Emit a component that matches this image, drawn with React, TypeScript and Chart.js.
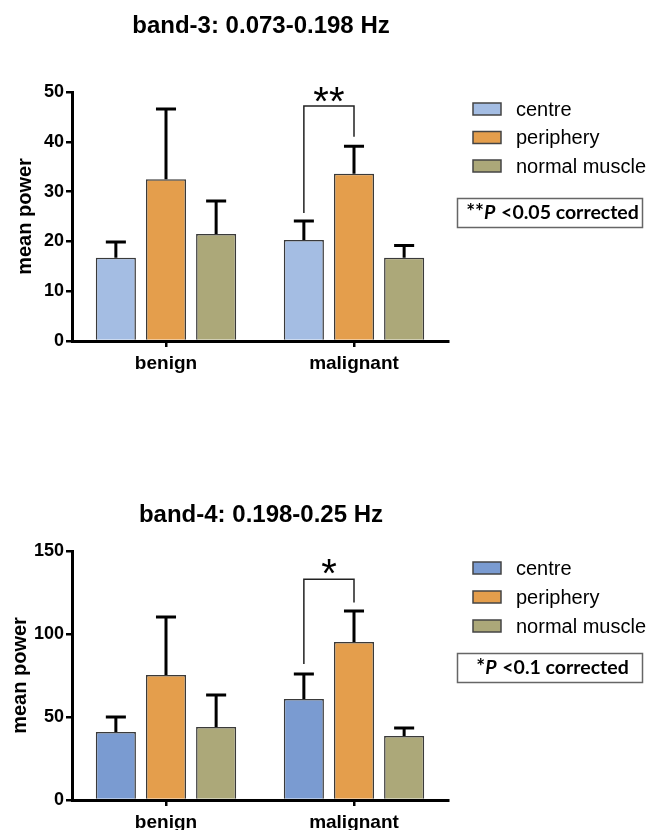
import React, { useEffect, useRef } from 'react';
import { Chart, registerables } from 'chart.js';

Chart.register(...registerables);

// ---------- data ----------
const categories = ['benign', 'malignant'];
const seriesNames = ['centre', 'periphery', 'normal muscle'];
const yAxisLabel = 'mean power';

const band3Title = 'band-3: 0.073-0.198 Hz';
const band3Centre = [16.7, 20.3];
const band3Periphery = [32.5, 33.6];
const band3Normal = [21.5, 16.7];
const band3CentreErr = [3.2, 3.8];
const band3PeripheryErr = [14.1, 5.5];
const band3NormalErr = [6.6, 2.5];
const band3YMin = 0;
const band3YMax = 50;
const band3YStep = 10;
const band3Bracket = [25.7, 47.2, 41.0]; // left leg bottom, bracket top, right leg bottom
const band3Stars = '**';
const band3Note = ['**', 'P', ' <0.05 corrected'];

const band4Title = 'band-4: 0.198-0.25 Hz';
const band4Centre = [41.0, 60.8];
const band4Periphery = [75.3, 95.2];
const band4Normal = [44.0, 38.5];
const band4CentreErr = [9.0, 15.1];
const band4PeripheryErr = [34.9, 18.6];
const band4NormalErr = [19.3, 4.9];
const band4YMin = 0;
const band4YMax = 150;
const band4YStep = 50;
const band4Bracket = [82, 133, 119];
const band4Stars = '*';
const band4Note = ['*', 'P', ' <0.1 corrected'];

// ---------- styles ----------
const FONT = '"Liberation Sans", Arial, Helvetica, sans-serif';
const NOTE_FONT = 'Lato, "Open Sans", sans-serif';
const W = 647;
const H = 415;

type Spec = {
  title: string;
  values: number[][];
  errors: number[][];
  colors: string[];
  yMin: number; yMax: number; yStep: number;
  bracket: number[];
  stars: string;
  note: string[];
  layout: {
    plotTop: number; padBottom: number; xHeight: number;
    titleBaseline: number;
    yLabelX: number;
    legendTop: number; legendGap: number;
    noteTop: number;
    starGap: number;
  };
};

const band3Spec: Spec = {
  title: band3Title,
  values: [band3Centre, band3Periphery, band3Normal],
  errors: [band3CentreErr, band3PeripheryErr, band3NormalErr],
  colors: ['#a4bde3', '#e49e4c', '#aca879'],
  yMin: band3YMin, yMax: band3YMax, yStep: band3YStep,
  bracket: band3Bracket,
  stars: band3Stars,
  note: band3Note,
  layout: { plotTop: 92, padBottom: 34, xHeight: 40, titleBaseline: 33, yLabelX: 25, legendTop: 109, legendGap: 28.5, noteTop: 198, starGap: 11 },
};

const band4Spec: Spec = {
  title: band4Title,
  values: [band4Centre, band4Periphery, band4Normal],
  errors: [band4CentreErr, band4PeripheryErr, band4NormalErr],
  colors: ['#7a9bd1', '#e49e4c', '#aca879'],
  yMin: band4YMin, yMax: band4YMax, yStep: band4YStep,
  bracket: band4Bracket,
  stars: band4Stars,
  note: band4Note,
  layout: { plotTop: 136, padBottom: 0, xHeight: 30, titleBaseline: 107, yLabelX: 20, legendTop: 153, legendGap: 29, noteTop: 238, starGap: 13 },
};

function makePlugin(spec: Spec) {
  return {
    id: 'decor',
    afterDatasetsDraw(chart: any) {
      const ctx = chart.ctx as CanvasRenderingContext2D;
      const y = chart.scales.y;
      chart.data.datasets.forEach((ds: any, di: number) => {
        const meta = chart.getDatasetMeta(di);
        meta.data.forEach((bar: any, i: number) => {
          const v = ds.data[i];
          const e = spec.errors[di][i];
          const pBase = y.getPixelForValue(v);
          const pTop = y.getPixelForValue(v + e);
          const half = bar.width / 4;
          ctx.save();
          ctx.strokeStyle = '#000';
          ctx.lineWidth = 3;
          ctx.beginPath();
          ctx.moveTo(bar.x, pBase);
          ctx.lineTo(bar.x, pTop);
          ctx.moveTo(bar.x - half, pTop);
          ctx.lineTo(bar.x + half, pTop);
          ctx.stroke();
          ctx.restore();
        });
      });
    },
    afterDraw(chart: any) {
      const ctx = chart.ctx as CanvasRenderingContext2D;
      const area = chart.chartArea;
      const y = chart.scales.y;
      const L = spec.layout;
      ctx.save();
      // title
      ctx.fillStyle = '#000';
      ctx.font = `bold 24px ${FONT}`;
      ctx.textAlign = 'center';
      ctx.textBaseline = 'alphabetic';
      ctx.fillText(spec.title, (area.left + area.right) / 2 + 1, L.titleBaseline);

      // y-axis label
      ctx.save();
      ctx.translate(L.yLabelX, (area.top + area.bottom) / 2);
      ctx.rotate(-Math.PI / 2);
      ctx.font = `bold 20px ${FONT}`;
      ctx.textBaseline = 'middle';
      ctx.textAlign = 'center';
      ctx.fillText(yAxisLabel, 0, 0);
      ctx.restore();

      // significance bracket (between centre and periphery of malignant)
      const b0 = chart.getDatasetMeta(0).data[1];
      const b1 = chart.getDatasetMeta(1).data[1];
      const pL = y.getPixelForValue(spec.bracket[0]);
      const pT = y.getPixelForValue(spec.bracket[1]);
      const pR = y.getPixelForValue(spec.bracket[2]);
      ctx.strokeStyle = '#222';
      ctx.lineWidth = 1.5;
      ctx.beginPath();
      ctx.moveTo(b0.x, pL);
      ctx.lineTo(b0.x, pT);
      ctx.lineTo(b1.x, pT);
      ctx.lineTo(b1.x, pR);
      ctx.stroke();
      ctx.font = `40px ${FONT}`;
      ctx.textAlign = 'center';
      ctx.textBaseline = 'alphabetic';
      const m = ctx.measureText(spec.stars);
      const starCenter = pT - L.starGap;
      const baseY = starCenter + (m.actualBoundingBoxAscent - m.actualBoundingBoxDescent) / 2;
      ctx.fillStyle = '#000';
      ctx.fillText(spec.stars, (b0.x + b1.x) / 2, baseY);

      // legend
      seriesNames.forEach((name, k) => {
        const cy = L.legendTop + k * L.legendGap;
        ctx.fillStyle = spec.colors[k];
        ctx.fillRect(473, cy - 6, 28, 12);
        ctx.strokeStyle = '#444';
        ctx.lineWidth = 1.5;
        ctx.strokeRect(473, cy - 6, 28, 12);
        ctx.fillStyle = '#000';
        ctx.font = `20px ${FONT}`;
        ctx.textAlign = 'left';
        ctx.textBaseline = 'middle';
        ctx.fillText(name, 516, cy + 1);
      });

      // note box
      ctx.strokeStyle = '#666';
      ctx.lineWidth = 1.5;
      ctx.strokeRect(457.5, L.noteTop + 0.5, 185, 29);
      const fonts = [`bold 21px ${NOTE_FONT}`, `italic bold 19.5px ${NOTE_FONT}`, `bold 19.5px ${NOTE_FONT}`];
      let total = 0;
      const widths = spec.note.map((t, i) => {
        ctx.font = fonts[i];
        const w = ctx.measureText(t).width;
        total += w;
        return w;
      });
      let x = 551 - total / 2 + 1;
      ctx.textAlign = 'left';
      ctx.textBaseline = 'alphabetic';
      ctx.fillStyle = '#000';
      spec.note.forEach((t, i) => {
        ctx.font = fonts[i];
        ctx.fillText(t, x, L.noteTop + 21);
        x += widths[i] + (i === 1 ? 1 : 0);
      });
      ctx.restore();
    },
  };
}

function makeConfig(spec: Spec): any {
  const L = spec.layout;
  return {
    type: 'bar',
    data: {
      labels: categories,
      datasets: seriesNames.map((name, k) => ({
        label: name,
        data: spec.values[k],
        backgroundColor: spec.colors[k],
        borderColor: '#3a3a3a',
        borderWidth: 1.5,
        categoryPercentage: 0.8,
        barPercentage: 0.8,
      })),
    },
    options: {
      animation: false,
      responsive: false,
      events: [],
      layout: { padding: { left: 0, top: L.plotTop, right: W - 448, bottom: L.padBottom } },
      plugins: {
        legend: { display: false },
        title: { display: false },
        tooltip: { enabled: false },
      },
      scales: {
        x: {
          type: 'category',
          offset: true,
          z: 1,
          grid: { display: true, drawOnChartArea: false, drawTicks: true, tickLength: 6, offset: false, color: '#000', lineWidth: 2.5 },
          border: { display: true, color: '#000', width: 3 },
          ticks: { color: '#000', font: { family: FONT, size: 19, weight: 'bold' }, padding: 5, maxRotation: 0 },
          afterFit: (s: any) => { s.height = L.xHeight; },
        },
        y: {
          min: spec.yMin,
          max: spec.yMax,
          z: 1,
          ticks: { stepSize: spec.yStep, color: '#000', font: { family: FONT, size: 18, weight: 'bold' }, padding: 2 },
          grid: { display: true, drawOnChartArea: false, drawTicks: true, tickLength: 6, color: '#000', lineWidth: 2.5 },
          border: { display: true, color: '#000', width: 3 },
          afterFit: (s: any) => { s.width = 72; },
        },
      },
    },
    plugins: [makePlugin(spec)],
  };
}

function BarPanel({ spec, top }: { spec: Spec; top: number }) {
  const ref = useRef<HTMLCanvasElement | null>(null);
  useEffect(() => {
    if (!ref.current) return;
    const chart = new Chart(ref.current, makeConfig(spec));
    return () => chart.destroy();
  }, [spec]);
  return (
    <canvas
      ref={ref}
      width={W}
      height={H}
      style={{ position: 'absolute', left: 0, top, width: W, height: H, display: 'block' }}
    />
  );
}

export default function App() {
  return (
    <div style={{ position: 'absolute', left: 0, top: 0, width: W, height: 830, background: '#fff', overflow: 'hidden' }}>
      <BarPanel spec={band3Spec} top={0} />
      <BarPanel spec={band4Spec} top={H} />
    </div>
  );
}
